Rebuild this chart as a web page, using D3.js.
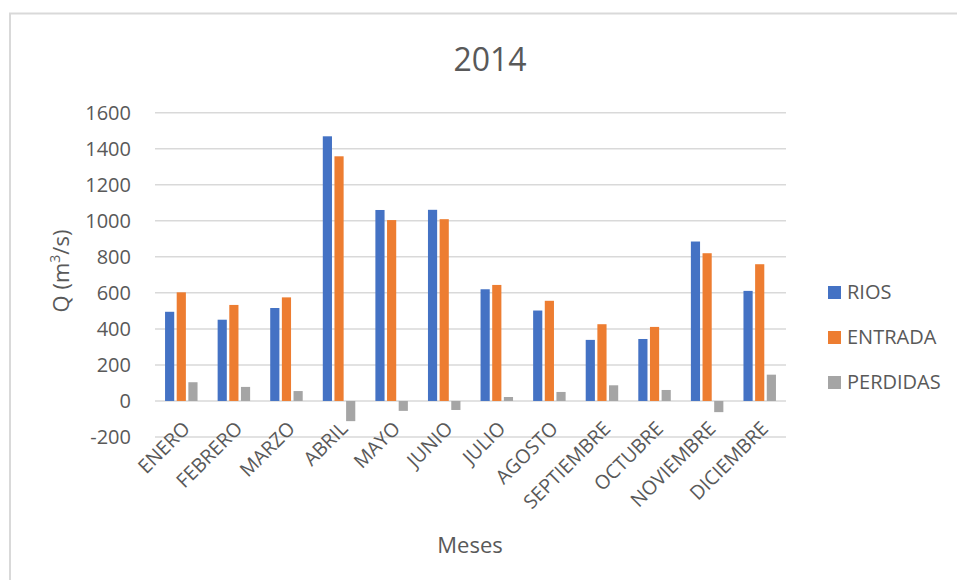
<!DOCTYPE html>
<html>
<head>
<meta charset="utf-8">
<script src="https://cdn.jsdelivr.net/npm/d3@7"></script>
<style>
  body { margin: 0; background: #fff; }
  svg text { font-family: "Open Sans", sans-serif; fill: #595959; }
</style>
</head>
<body>
<svg id="vis" width="957" height="580"></svg>
<script>
// data
var meses = ["ENERO", "FEBRERO", "MARZO", "ABRIL", "MAYO", "JUNIO", "JULIO", "AGOSTO", "SEPTIEMBRE", "OCTUBRE", "NOVIEMBRE", "DICIEMBRE"];
var series = ["RIOS", "ENTRADA", "PERDIDAS"];
var rios = [495, 451, 516, 1469, 1060, 1061, 620, 502, 339, 344, 885, 611];
var entrada = [603, 533, 575, 1358, 1004, 1009, 644, 556, 426, 411, 820, 759];
var perdidas = [104, 78, 55, -112, -55, -50, 22, 50, 87, 61, -62, 146];
var yTicks = [-200, 0, 200, 400, 600, 800, 1000, 1200, 1400, 1600];
var colores = ["#4472C4", "#ED7D31", "#A5A5A5"];

var _vis = d3.select("#vis");

// chart border (only left and top visible)
_vis.append("path")
    .attr("d", "M10,580 L10,13.5 L957,13.5")
    .attr("fill", "none")
    .attr("stroke", "#D9D9D9")
    .attr("stroke-width", 2);

var x0 = 155, x1 = 786;
var yScale = d3.scaleLinear().domain([-200, 1600]).range([437, 112.7]);
var xScale = d3.scaleBand().domain(meses).range([x0, x1]).padding(0);

// bar geometry like excel: gap 219%, overlap -27%
var bw = xScale.bandwidth() / (3 + 2 * 0.27 + 2.19);
var pitch = bw * 1.27;

// gridlines
_vis.append("g")
    .selectAll("line")
    .data(yTicks)
    .enter()
    .append("line")
    .attr("x1", x0)
    .attr("x2", x1)
    .attr("y1", d => yScale(d))
    .attr("y2", d => yScale(d))
    .attr("stroke", "#D9D9D9")
    .attr("stroke-width", 1.5);

// y axis labels
var yAxis = _vis.append("g")
    .attr("transform", "translate(" + (x0 - 10) + ",0)")
    .call(d3.axisLeft(yScale).tickValues(yTicks).tickFormat(d => String(d)).tickSize(0).tickPadding(14));
yAxis.select(".domain").remove();
yAxis.selectAll("text")
    .attr("style", "font-size: 20px; font-family: 'Open Sans', sans-serif; fill: #595959;");

// bars
var valores = [rios, entrada, perdidas];
var filas = [];
meses.forEach(function(m, i) {
    series.forEach(function(s, j) {
        filas.push({ mes: m, serie: j, v: valores[j][i] });
    });
});

_vis.append("g")
    .selectAll("rect")
    .data(filas)
    .enter()
    .append("rect")
    .attr("x", d => xScale(d.mes) + xScale.bandwidth() / 2 - (pitch * 2 + bw) / 2 + d.serie * pitch)
    .attr("width", bw)
    .attr("y", d => yScale(Math.max(0, d.v)))
    .attr("height", d => Math.abs(yScale(d.v) - yScale(0)))
    .attr("fill", d => colores[d.serie]);

// x labels, rotated
var xAxis = _vis.append("g")
    .attr("transform", "translate(0," + 419 + ")")
    .call(d3.axisBottom(xScale).tickSize(0).tickPadding(0));
xAxis.select(".domain").remove();
xAxis.selectAll("text")
    .attr("style", "font-size: 19.5px; font-family: 'Open Sans', sans-serif; fill: #595959;")
    .attr("text-anchor", "end")
    .attr("dy", "0.35em")
    .attr("transform", "translate(5,6) rotate(-45)");

// title
_vis.append("text")
    .attr("x", 490)
    .attr("y", 71)
    .attr("text-anchor", "middle")
    .attr("style", "font-size: 32px;")
    .text("2014");

// axis titles
_vis.append("text")
    .attr("transform", "translate(69,271) rotate(-90)")
    .attr("text-anchor", "middle")
    .attr("style", "font-size: 22px;")
    .html("Q (m<tspan baseline-shift='super' font-size='14px'>3</tspan>/s)");

_vis.append("text")
    .attr("x", 470)
    .attr("y", 553)
    .attr("text-anchor", "middle")
    .attr("style", "font-size: 22px;")
    .text("Meses");

// legend
var legend = _vis.append("g")
    .selectAll("g")
    .data(series)
    .enter()
    .append("g")
    .attr("transform", (d, i) => "translate(828," + (292 + i * 45) + ")");
legend.append("rect")
    .attr("x", 0)
    .attr("y", -6)
    .attr("width", 13)
    .attr("height", 13)
    .attr("fill", (d, i) => colores[i]);
legend.append("text")
    .attr("x", 19)
    .attr("y", 0)
    .attr("dy", "0.35em")
    .attr("style", "font-size: 20px;")
    .text(d => d);
</script>
</body>
</html>
